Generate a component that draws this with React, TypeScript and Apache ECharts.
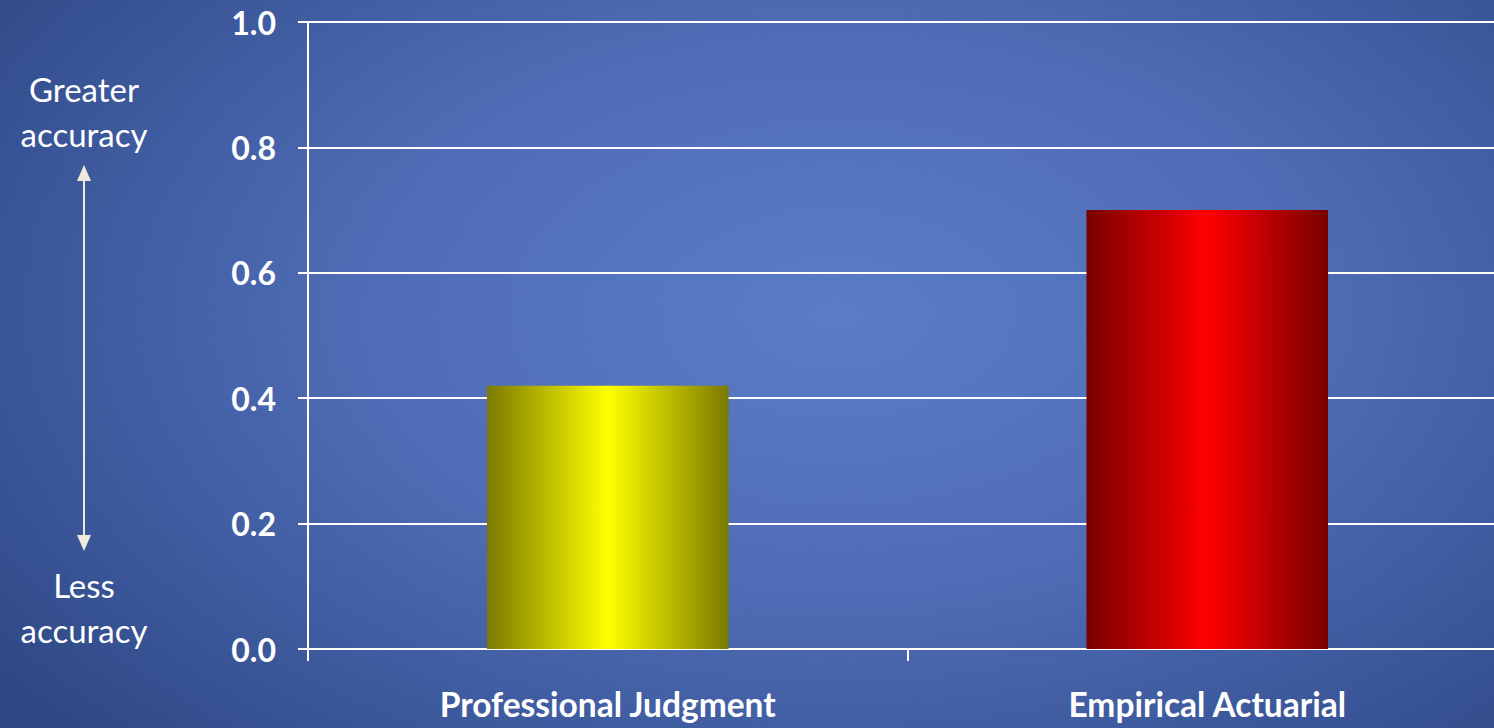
import React, { useEffect, useRef } from "react";
import * as echarts from "echarts";

const categories = ["Professional Judgment", "Empirical Actuarial"];
const values = [0.42, 0.7];
const barEdgeColors = ["#7a7a00", "#780000"];
const barMidColors = ["#ffff00", "#ff0000"];
const yTicks = [0, 0.2, 0.4, 0.6, 0.8, 1.0];
const topNote = ["Greater", "accuracy"];
const bottomNote = ["Less", "accuracy"];

export default function App() {
  const ref = useRef<HTMLDivElement>(null);
  useEffect(() => {
    if (!ref.current) return;
    const chart = echarts.init(ref.current, null, { renderer: "svg" });
    const font = "Lato, 'Open Sans', sans-serif";
    const note = (text: string, y: number) => ({
      type: "text",
      style: {
        x: 84,
        y,
        text,
        fill: "#ffffff",
        font: `33px ${font}`,
        align: "center",
        verticalAlign: "middle",
      },
    });
    chart.setOption({
      animation: false,
      backgroundColor: "transparent",
      grid: { left: 308, top: 22, bottom: 79, right: 0, containLabel: false },
      xAxis: {
        type: "category",
        data: categories,
        axisLine: { lineStyle: { color: "#ffffff", width: 2 } },
        axisTick: { show: true, length: 12, lineStyle: { color: "#ffffff", width: 2 } },
        axisLabel: {
          color: "#ffffff",
          fontFamily: font,
          fontWeight: "bold",
          fontSize: 33.5,
          margin: 38,
        },
      },
      yAxis: {
        type: "value",
        min: yTicks[0],
        max: yTicks[yTicks.length - 1],
        interval: 0.2,
        axisLine: { show: true, lineStyle: { color: "#ffffff", width: 2 } },
        axisTick: { show: true, length: 10, lineStyle: { color: "#ffffff", width: 2 } },
        splitLine: { show: true, lineStyle: { color: "#ffffff", width: 2 } },
        axisLabel: {
          color: "#ffffff",
          fontFamily: font,
          fontWeight: "bold",
          fontSize: 32,
          margin: 32,
          formatter: (v: number) => v.toFixed(1),
        },
      },
      series: [
        {
          type: "bar",
          barWidth: "40.3%",
          data: values.map((v, i) => ({
            value: v,
            itemStyle: {
              color: new echarts.graphic.LinearGradient(0, 0, 1, 0, [
                { offset: 0, color: barEdgeColors[i] },
                { offset: 0.5, color: barMidColors[i] },
                { offset: 1, color: barEdgeColors[i] },
              ]),
            },
          })),
        },
      ],
      graphic: [
        note(topNote[0], 89),
        note(topNote[1], 134),
        note(bottomNote[0], 585),
        note(bottomNote[1], 630),
        {
          type: "line",
          shape: { x1: 84, y1: 176, x2: 84, y2: 540 },
          style: { stroke: "#eeeadc", lineWidth: 2 },
        },
        {
          type: "polygon",
          shape: { points: [[84, 165], [77, 181], [91, 181]] },
          style: { fill: "#eeeadc" },
        },
        {
          type: "polygon",
          shape: { points: [[84, 551], [77, 535], [91, 535]] },
          style: { fill: "#eeeadc" },
        },
      ],
    });
    return () => chart.dispose();
  }, []);
  return (
    <div
      style={{
        position: "absolute",
        left: 0,
        top: 0,
        width: 1494,
        height: 728,
        overflow: "hidden",
        background:
          "radial-gradient(ellipse 70% 85% at 56% 43%, #5b7cc6 0%, #4f6db6 45%, #3a5698 80%, #2f4785 100%)",
      }}
    >
      <div ref={ref} style={{ width: 1507, height: 728 }} />
    </div>
  );
}
